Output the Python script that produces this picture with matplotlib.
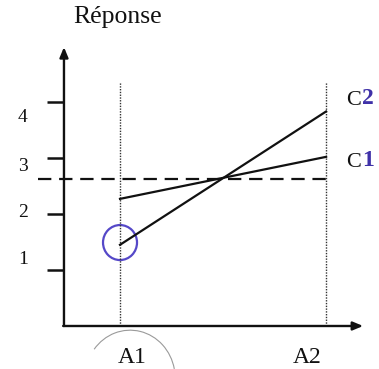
import numpy as np
import matplotlib.pyplot as plt
from matplotlib.patches import Arc, Ellipse

# Data
levels_a = ["A1", "A2"]
x_pos = [1, 2]
c1 = [2.27, 3.02]
c2 = [1.45, 3.83]
mean_resp = 2.625
y_ticks = [1, 2, 3, 4]
series_labels = [("C", "2"), ("C", "1")]

plt.rcParams['font.family'] = ['Liberation Serif', 'DejaVu Serif']

fig = plt.figure(figsize=(3.79, 3.69), dpi=100)
ax = fig.add_axes([0, 0, 1, 1])
ax.set_xlim(0.4175, 2.257)
ax.set_ylim(-0.768, 5.821)
ax.axis('off')

x0 = 0.728   # where the y axis sits
ink = '#111111'
blue = '#3f31a8'

# axes with arrow heads
ax.annotate('', xy=(x0, 4.98), xytext=(x0, 0), arrowprops=dict(arrowstyle='-|>,head_length=0.6,head_width=0.25', lw=1.7, color=ink, shrinkA=0, shrinkB=0))
ax.annotate('', xy=(2.18, 0), xytext=(x0 - 0.004, 0), arrowprops=dict(arrowstyle='-|>,head_length=0.6,head_width=0.25', lw=1.7, color=ink, shrinkA=0, shrinkB=0))

# y ticks drawn outside on the left; the scanned labels drift from their ticks
label_y = [1.18, 2.02, 2.84, 3.73]
for t, ly in zip(y_ticks, label_y):
    ax.plot([0.648, x0], [t, t], color=ink, lw=1.8, solid_capstyle='butt')
    ax.text(0.528, ly, str(t), ha='center', va='center', fontsize=14, color=ink)

# dotted verticals at the two levels of A
for xp in x_pos:
    ax.plot([xp, xp], [0, 4.36], color='#333333', lw=1.0, ls=(0, (1, 1)))

# overall mean
ax.plot([0.602, 2.005], [mean_resp, mean_resp], color=ink, lw=1.6, ls=(0, (6, 3.5)))

# the two interaction lines
ax.plot(x_pos, c1, color=ink, lw=1.6)
ax.plot(x_pos, c2, color=ink, lw=1.6)

# labels: typed "C", digit rewritten by hand in blue
for (c, d), y in zip(series_labels, [c2[1] + 0.2, c1[1] - 0.1]):
    ax.text(2.098, y, c, ha='left', va='center', fontsize=16, color=ink)
    ax.text(2.175, y + 0.03, d, ha='left', va='center', fontsize=17, color=blue, fontweight='bold')

ax.text(1.06, -0.57, levels_a[0], ha='center', va='center', fontsize=17, color=ink)
ax.text(1.908, -0.57, levels_a[1], ha='center', va='center', fontsize=17, color=ink)
ax.text(0.99, 5.52, "Réponse", ha='center', va='center', fontsize=18.5, color=ink)

# hand-drawn marks on the scan
ax.add_patch(Ellipse((1.0, 1.49), 34 / 206, 35 / 56, angle=0, fill=False, ec='#5548c8', lw=1.6))
w, h = 0.437, 1.71
t1, t2 = np.radians([11, 143])   # parametric angles, converted for Arc
a1 = np.degrees(np.arctan2(h * np.sin(t1), w * np.cos(t1)))
a2 = np.degrees(np.arctan2(h * np.sin(t2), w * np.cos(t2)))
ax.add_patch(Arc((1.049, -0.93), w, h, theta1=a1, theta2=a2, color='#9a9a9a', lw=0.8))

fig.savefig('out.png', dpi=100)
